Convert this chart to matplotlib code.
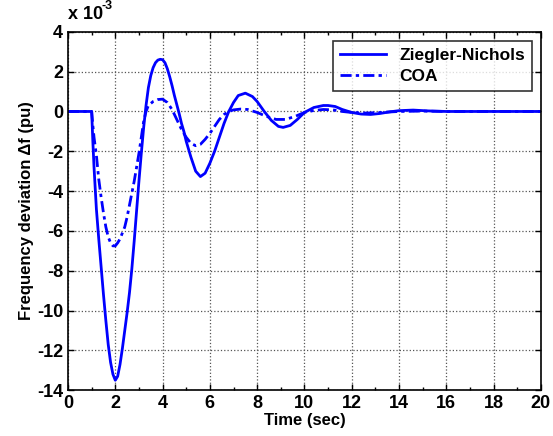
import matplotlib.pyplot as plt
import numpy as np
from matplotlib.ticker import MultipleLocator

# values, frequency deviation in units of 1e-3 pu
zn_t = [0, 0.5, 1.0, 1.05, 1.1, 1.2, 1.3, 1.4, 1.5, 1.6, 1.7, 1.8, 1.9, 2.0,
        2.1, 2.2, 2.3, 2.4, 2.5, 2.6, 2.7, 2.8, 2.9, 3.0, 3.1, 3.2, 3.3, 3.4,
        3.5, 3.6, 3.7, 3.8, 3.9, 4.0, 4.1, 4.2, 4.3, 4.4, 4.5, 4.6, 4.7, 4.8,
        4.9, 5.0, 5.2, 5.4, 5.6, 5.8, 6.0, 6.2, 6.4, 6.6, 6.8, 7.0, 7.2, 7.5,
        7.8, 8.0, 8.3, 8.6, 8.9, 9.1, 9.4, 9.7, 10.0, 10.4, 10.8, 11.0, 11.3,
        11.6, 12.0, 12.4, 12.8, 13.2, 13.6, 14.0, 14.6, 15.2, 16, 17, 18, 20]
zn_df = [0, 0, 0, -1.5, -2.8, -4.9, -6.4, -7.8, -9.2, -10.5, -11.7, -12.6,
         -13.2, -13.5, -13.3, -12.7, -11.9, -11.0, -10.1, -9.1, -7.9, -6.5,
         -5.0, -3.5, -2.1, -0.8, 0.3, 1.2, 1.8, 2.2, 2.45, 2.58, 2.62, 2.6,
         2.45, 2.15, 1.75, 1.3, 0.8, 0.35, -0.1, -0.6, -1.0, -1.5, -2.3, -3.0,
         -3.27, -3.1, -2.6, -2.0, -1.3, -0.6, 0.0, 0.45, 0.8, 0.92, 0.75, 0.5,
         0.0, -0.45, -0.75, -0.8, -0.7, -0.4, -0.05, 0.2, 0.3, 0.3, 0.25, 0.1,
         -0.05, -0.13, -0.15, -0.1, -0.02, 0.04, 0.07, 0.03, 0, 0, 0, 0]

coa_t = [0, 1.0, 1.05, 1.1, 1.2, 1.3, 1.4, 1.5, 1.6, 1.7, 1.8, 1.9, 2.0, 2.1,
         2.2, 2.3, 2.4, 2.5, 2.6, 2.7, 2.8, 2.9, 3.0, 3.1, 3.2, 3.3, 3.4, 3.6,
         3.8, 4.0, 4.2, 4.4, 4.6, 4.8, 5.0, 5.2, 5.4, 5.6, 5.8, 6.0, 6.2, 6.4,
         6.6, 6.8, 7.0, 7.3, 7.6, 8.0, 8.4, 8.8, 9.2, 9.6, 10.0, 10.4, 10.8,
         11.2, 11.6, 12.0, 12.6, 13.2, 14, 15, 16, 18, 20]
coa_df = [0, 0, -0.7, -1.3, -2.2, -3.4, -4.3, -5.1, -5.8, -6.3, -6.6, -6.75,
          -6.75, -6.6, -6.4, -6.1, -5.8, -5.3, -4.7, -4.1, -3.5, -2.8, -2.1,
          -1.3, -0.5, 0.0, 0.3, 0.5, 0.6, 0.62, 0.45, 0.1, -0.4, -0.9, -1.3,
          -1.6, -1.72, -1.65, -1.4, -1.1, -0.75, -0.4, -0.15, 0.0, 0.08, 0.12,
          0.1, -0.05, -0.25, -0.4, -0.4, -0.25, -0.05, 0.05, 0.1, 0.08, 0.0,
          -0.05, -0.08, -0.05, 0, 0.02, 0, 0, 0]

labels = ["Ziegler-Nichols", "COA"]

plt.rcParams["font.family"] = ["Liberation Sans", "DejaVu Sans"]
plt.rcParams["font.weight"] = "bold"
plt.rcParams["axes.unicode_minus"] = False

fig = plt.figure(figsize=(5.53, 4.36), dpi=100)
ax = fig.add_axes([0.123, 0.105, 0.855, 0.822])

ax.plot(zn_t, zn_df, color="#0000ff", lw=2, label=labels[0])
ax.plot(coa_t, coa_df, color="#0000ff", lw=2, ls=(0, (4, 1.5, 1.2, 1.5)), label=labels[1])

ax.set_xlim(0, 20)
ax.set_ylim(-14, 4)
ax.set_xticks(np.arange(0, 21, 2))
ax.set_yticks(np.arange(-14, 5, 2))
ax.xaxis.set_minor_locator(MultipleLocator(1))
ax.tick_params(which="both", direction="in", top=True, right=True, labelsize=13, width=1)
ax.tick_params(which="major", length=4)
ax.tick_params(which="minor", length=2)
for lab in ax.get_xticklabels() + ax.get_yticklabels():
    lab.set_fontweight("bold")
ax.grid(True, which="major", color="#555555", ls=":", lw=0.9)
for s in ax.spines.values():
    s.set_linewidth(1.2)

ax.set_xlabel("Time (sec)", fontsize=12, fontweight="bold", labelpad=1)
ax.set_ylabel("Frequency deviation \u0394f (pu)", fontsize=12, fontweight="bold", labelpad=2)

ax.annotate("x 10", xy=(0, 1), xycoords="axes fraction", xytext=(0, 6),
            textcoords="offset points", fontsize=13, fontweight="bold", va="bottom")
ax.annotate("-3", xy=(0, 1), xycoords="axes fraction", xytext=(24, 14),
            textcoords="offset points", fontsize=9, fontweight="bold", va="bottom")

leg = ax.legend(loc="upper right", fontsize=12.5, frameon=True, fancybox=False,
                edgecolor="black", handlelength=2.6, borderaxespad=0.5, labelspacing=0.35)
leg.get_frame().set_linewidth(1.2)
for t in leg.get_texts():
    t.set_fontweight("bold")

fig.savefig("out.png", dpi=100)
